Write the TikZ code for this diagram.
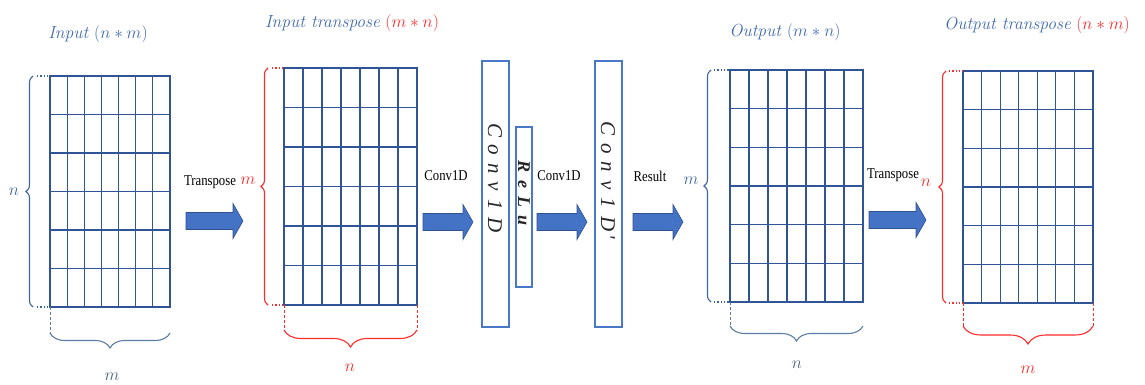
\documentclass[tikz,border=0pt]{standalone}
\usepackage{fontspec}
\newfontfamily\labelfont{Liberation Serif}
\usetikzlibrary{calc,decorations.pathreplacing}

\definecolor{gridblue}{HTML}{2F5597}
\definecolor{titleblue}{HTML}{4169B0}
\definecolor{boxblue}{HTML}{4A78C8}
\definecolor{arrowfill}{HTML}{4472C4}
\definecolor{arrowedge}{HTML}{2F528F}
\definecolor{markred}{HTML}{FF2A2A}
\definecolor{braceblue}{HTML}{3F65A0}
\definecolor{bracegray}{HTML}{5B7DA3}

\tikzset{
  matrixbox/.style={draw=gridblue, line width=1.2pt, inner sep=0pt, outer sep=0pt},
  gridline/.style={gridblue, line width=1.2pt},
  titletext/.style={font=\fontsize{17.5}{20}\selectfont, inner sep=0pt, text=titleblue},
  steplabel/.style={font=\labelfont\fontsize{15}{17}\selectfont, inner sep=0pt},
  dimlabel/.style={font=\fontsize{19}{21}\selectfont, inner sep=0pt},
  layerbox/.style={draw=boxblue, line width=1.1pt, inner sep=0pt, outer sep=0pt},
  layertext/.style={font=\labelfont\itshape\fontsize{21}{22}\selectfont, inner sep=0pt, rotate=-90, text=black!85},
  flowarrow/.style={fill=arrowfill, draw=arrowedge, line width=0.6pt},
  bracepath/.style={decorate, decoration={brace, amplitude=#1}, line width=1.1pt},
  dotlink/.style={dotted, line width=1.3pt},
  dimtick/.style={dashed, dash pattern=on 3pt off 2pt, line width=0.9pt},
}

% interior lines of a 7 x 6 cell matrix drawn inside node #1
\newcommand\gridcells[1]{%
  \foreach \i in {1,...,6}
    \draw[gridline] ($(#1.north west)!\i/7!(#1.north east)$) -- ($(#1.south west)!\i/7!(#1.south east)$);
  \foreach \j in {1,...,5}
    \draw[gridline] ($(#1.north west)!\j/6!(#1.south west)$) -- ($(#1.north east)!\j/6!(#1.south east)$);
}

% block arrow: start x, tip x, centre y
\newcommand\blockarrow[3]{%
  \filldraw[flowarrow] (#1,#3-8.5) -- (#2-10,#3-8.5) -- (#2-10,#3-17.5) -- (#2,#3)
    -- (#2-10,#3+17.5) -- (#2-10,#3+8.5) -- (#1,#3+8.5) -- cycle;
}

\begin{document}
\begin{tikzpicture}[x=1pt,y=-1pt]
\useasboundingbox (0,0) rectangle (1145,385);

% ---------- matrices ----------
\node[matrixbox, minimum width=120, minimum height=231] (g1) at (110,191.5) {};
\node[matrixbox, minimum width=133, minimum height=237] (g2) at (350.5,186.5) {};
\node[matrixbox, minimum width=133, minimum height=232] (g3) at (796.5,186) {};
\node[matrixbox, minimum width=130, minimum height=232] (g4) at (1028,187) {};
\gridcells{g1}
\gridcells{g2}
\gridcells{g3}
\gridcells{g4}

% ---------- titles ----------
\node[titletext] (t1) at (98,34) {\textit{Input} $(n\ast m)$};
\node[titletext] (t2) at (352,23) {\textit{Input transpose} \textcolor{markred}{$(m\ast n)$}};
\node[titletext] (t3) at (785,32) {\textit{Output} $(m\ast n)$};
\node[titletext] (t4) at (1037,25) {\textit{Output transpose} \textcolor{markred}{$(n\ast m)$}};

% ---------- input matrix braces ----------
\draw[bracepath=7, braceblue] (33,307) -- (33,76);
\draw[dotlink, braceblue] (37,76) -- (g1.north west);
\draw[dotlink, braceblue] (37,307) -- (g1.south west);
\draw[dimtick, bracegray] (g1.south west) -- (50,333);
\draw[bracepath=15, bracegray] (170,333) -- (50,333);
\node[dimlabel, text=braceblue] (n1) at (14,192) {$n$};
\node[dimlabel, text=bracegray!80!black] (m1) at (112,377) {$m$};

% ---------- transposed input braces ----------
\draw[bracepath=7, markred] (268,305) -- (268,68);
\draw[dotlink, markred] (272,68) -- (g2.north west);
\draw[dotlink, markred] (272,305) -- (g2.south west);
\draw[dimtick, markred] (g2.south west) -- (284,330);
\draw[dimtick, markred] (g2.south east) -- (417,330);
\draw[bracepath=17, markred] (417,330) -- (284,330);
\node[dimlabel, text=markred] (n2) at (350,368) {$n$};

% ---------- output braces ----------
\draw[bracepath=7, braceblue] (711,302) -- (711,70);
\draw[dotlink, braceblue] (714,70) -- (g3.north west);
\draw[dotlink, braceblue] (714,302) -- (g3.south west);
\draw[dimtick, bracegray] (g3.south west) -- (730,326);
\draw[bracepath=15, bracegray] (863,326) -- (730,326);
\node[dimlabel, text=braceblue] (m3) at (691,181) {$m$};
\node[dimlabel, text=bracegray!80!black] (n3) at (797,365) {$n$};

% ---------- transposed output braces ----------
\draw[bracepath=7, markred] (946,303) -- (946,71);
\draw[dotlink, markred] (949,71) -- (g4.north west);
\draw[dotlink, markred] (949,303) -- (g4.south west);
\draw[dimtick, markred] (g4.south west) -- (963,326);
\draw[dimtick, markred] (g4.south east) -- (1093,326);
\draw[bracepath=18, markred] (1093,326) -- (963,326);
\node[dimlabel, text=markred] (m4) at (1028,370) {$m$};

% ---------- layers ----------
\node[layerbox, minimum width=27, minimum height=266] (c1) at (495.5,194) {};
\node[layerbox, minimum width=16, minimum height=160] (relu) at (524,207) {};
\node[layerbox, minimum width=27, minimum height=266] (c2) at (608.5,194) {};
\node[layertext] (c1t) at (495,178) {C\kern8pt o\kern8pt n\kern8pt v\kern8pt 1\kern8pt D};
\node[layertext, font=\labelfont\bfseries\itshape\fontsize{18}{20}\selectfont] (relut) at (524,193) {R\kern8pt e\kern8pt L\kern8pt u};
\node[layertext] (c2t) at (608,180) {C\kern8pt o\kern8pt n\kern8pt v\kern8pt 1\kern8pt D\kern3pt '};

% ---------- flow arrows and their labels ----------
\blockarrow{186}{243}{221}
\blockarrow{423}{473}{222}
\blockarrow{537}{587}{222}
\blockarrow{633}{683}{222}
\blockarrow{869}{926}{220}

\node[steplabel] (s1) at (210,182) {\scalebox{0.85}[1]{Transpose}};
\node[dimlabel, text=markred] (m2) at (248,181) {$m$};
\node[steplabel] (s2) at (446,176) {\scalebox{0.85}[1]{Conv1D}};
\node[steplabel] (s3) at (559,176) {\scalebox{0.85}[1]{Conv1D}};
\node[steplabel] (s4) at (650,176) {\scalebox{0.85}[1]{Result}};
\node[steplabel] (s5) at (893,175) {\scalebox{0.85}[1]{Transpose}};
\node[dimlabel, text=markred] (n4) at (926,183) {$n$};

\end{tikzpicture}
\end{document}
